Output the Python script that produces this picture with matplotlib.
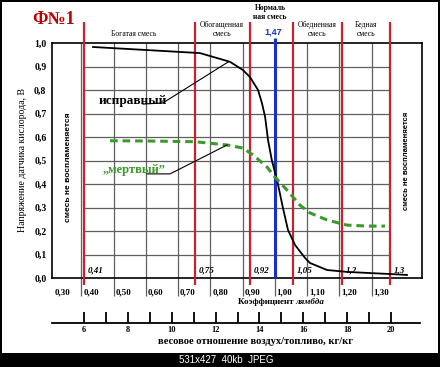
import matplotlib
matplotlib.use("Agg")
import matplotlib.pyplot as plt
from matplotlib.patches import Rectangle

# good sensor curve (lambda, volts)
lam_good = [0.436, 0.706, 0.768, 0.861, 0.901, 0.923, 0.948, 0.960, 0.970, 0.979,
            0.991, 1.007, 1.025, 1.041, 1.063, 1.094, 1.109, 1.162, 1.224, 1.295, 1.357, 1.410]
v_good = [0.983, 0.962, 0.957, 0.920, 0.885, 0.855, 0.800, 0.745, 0.685, 0.587,
          0.500, 0.417, 0.300, 0.204, 0.140, 0.085, 0.064, 0.034, 0.026, 0.021, 0.017, 0.013]

# dead sensor curve
lam_dead = [0.489, 0.604, 0.752, 0.852, 0.901, 0.933, 0.976, 1.000, 1.038, 1.078,
            1.109, 1.162, 1.224, 1.286, 1.342]
v_dead = [0.584, 0.583, 0.580, 0.566, 0.553, 0.523, 0.472, 0.430, 0.374, 0.310,
          0.277, 0.247, 0.225, 0.221, 0.221]

# mixture borders (red lines)
red_lam = [0.408, 0.752, 0.923, 1.057, 1.208, 1.357]
red_labels = ["0,41", "0,75", "0,92", "1,05", "1,2", "1,3"]
stoich_lam = 1.0

lam_ticks = [0.3, 0.4, 0.5, 0.6, 0.7, 0.8, 0.9, 1.0, 1.1, 1.2, 1.3]
lam_tick_labels = ["0,30", "0,40", "0,50", "0,60", "0,70", "0,80", "0,90", "1,00", "1,10", "1,20", "1,30"]
afr_ticks = [6, 7, 8, 9, 10, 11, 12, 13, 14, 15, 16, 17, 18, 19, 20]
afr_labels = ["6", "", "8", "", "10", "", "12", "", "14", "", "16", "", "18", "", "20"]
v_ticks = [0.0, 0.1, 0.2, 0.3, 0.4, 0.5, 0.6, 0.7, 0.8, 0.9, 1.0]
v_tick_labels = ["0,0", "0,1", "0,2", "0,3", "0,4", "0,5", "0,6", "0,7", "0,8", "0,9", "1,0"]

zones = ["Богатая смесь", "Обогащенная\nсмесь", "Обедненная\nсмесь", "Бедная\nсмесь"]
zone_lam = [0.563, 0.836, 1.131, 1.283]
zone_y = [1.038, 1.058, 1.058, 1.058]

AFR_STOICH = 14.7
SERIF = "Liberation Serif"
SANS = "Liberation Sans"
RED = "#cc1f2f"
GRID = "#5f5f5f"


def main():
    fig = plt.figure(figsize=(4.40, 3.67), dpi=100)
    fig.patch.set_facecolor("black")
    # white picture area inside the black frame / bottom bar
    fig.add_artist(Rectangle((2 / 440, 14 / 367), 436 / 440, 351 / 367,
                             transform=fig.transFigure, facecolor="white", edgecolor="none", zorder=0))
    fig.text(226 / 440, 7 / 367, "531x427  40kb  JPEG", color="white", fontsize=7,
             family=SANS, ha="center", va="center")

    ax = fig.add_axes([52 / 440, 1 - 278 / 367, 370 / 440, 235 / 367])
    ax.set_facecolor("white")
    ax.set_xlim(0.3089, 1.4566)
    ax.set_ylim(0, 1)
    for s in ax.spines.values():
        s.set_linewidth(1.2)
        s.set_color("black")
    ax.set_xticks([])
    ax.set_yticks(v_ticks, v_tick_labels, family=SERIF, fontweight="bold", fontsize=7)
    ax.tick_params(axis="y", length=0, pad=4)

    # grid
    ax.vlines(lam_ticks[1:], 0, 1, color=GRID, lw=0.9, zorder=1)
    ax.hlines(v_ticks[1:-1], red_lam[0], red_lam[-1], color=GRID, lw=0.9, zorder=1)

    # ticks + labels for lambda below the box
    ax.vlines(lam_ticks[1:], -0.075, 0, color=GRID, lw=0.9, clip_on=False)
    for i, (l, t) in enumerate(zip(lam_ticks, lam_tick_labels)):
        xx = l + 0.016 if i == 0 else l + 0.006
        ax.text(xx, -0.06, t, family=SERIF, fontweight="bold", fontsize=6.5,
                ha="left", va="center", clip_on=False)
    ax.text(1.065, -0.102, "Коэффициент ", family=SERIF, fontweight="bold", fontsize=6.5,
            ha="right", va="center")
    ax.text(1.065, -0.102, "лямбда", family=SERIF, fontweight="bold", style="italic",
            fontsize=6.5, ha="left", va="center")

    # air/fuel ratio scale
    afr_lam = [a / AFR_STOICH for a in afr_ticks]
    ax.plot([0.3089, 1.4505], [-0.191, -0.191], color="black", lw=1.3, clip_on=False)
    ax.vlines(afr_lam, -0.191, -0.145, color="black", lw=1.3, clip_on=False)
    for l, t in zip(afr_lam, afr_labels):
        ax.text(l, -0.222, t, family=SERIF, fontweight="bold", fontsize=6,
                ha="center", va="center")
    ax.text(0.939, -0.272, "весовое отношение воздух/топливо, кг/кг", family=SERIF,
            fontweight="bold", fontsize=7.6, ha="center", va="center")

    # red mixture borders
    ax.vlines(red_lam, -0.03, 1.09, color=RED, lw=1.6, clip_on=False, zorder=3)
    for l, t in zip(red_lam, red_labels):
        ax.text(l + 0.012, 0.034, t, family=SERIF, fontweight="bold", style="italic",
                fontsize=6.5, ha="left", va="center")
    ax.vlines(stoich_lam, 0, 1.02, color="#1a2fc8", lw=2.2, clip_on=False, zorder=3)
    ax.text(0.994, 1.045, "1,47", color="#1a2fc8", family=SANS, fontweight="bold",
            fontsize=6.5, ha="center", va="center")
    ax.text(0.985, 1.13, "Нормаль\nная смесь", family=SERIF, fontweight="bold",
            fontsize=5.5, ha="center", va="center", linespacing=1.1)
    for z, l, y in zip(zones, zone_lam, zone_y):
        ax.text(l, y, z, family=SERIF, fontsize=5.5, ha="center", va="center", linespacing=1.2)

    # curves
    ax.plot(lam_good, v_good, color="black", lw=1.3, zorder=4)
    ax.plot(lam_dead, v_dead, color="#3c9a2c", lw=2.2, dashes=(2.5, 1.6), zorder=4)

    # labels with leaders
    ax.plot([0.591, 0.653, 0.855], [0.740, 0.745, 0.919], color="black", lw=0.8, zorder=4)
    ax.text(0.56, 0.755, "исправный", family=SERIF, fontweight="bold", fontsize=9.5,
            ha="center", va="center", zorder=5)
    ax.plot([0.604, 0.675, 0.852], [0.443, 0.443, 0.566], color="black", lw=0.8, zorder=4)
    ax.text(0.565, 0.46, "„мертвый\u201d", family=SERIF, fontweight="bold", fontsize=9,
            color="#3c9a2c", ha="center", va="center", zorder=5)

    # side texts
    ax.text(0.359, 0.47, "смесь не воспламеняется", family=SANS, fontweight="bold",
            fontsize=6, rotation=90, ha="center", va="center")
    ax.text(1.41, 0.50, "смесь не воспламеняется", family=SANS, fontweight="bold",
            fontsize=5.5, rotation=90, ha="center", va="center")
    ax.text(0.216, 0.50, "Напряжение датчика кислорода, В", family=SERIF, fontsize=7,
            rotation=90, ha="center", va="center")
    ax.text(0.315, 1.098, "Ф№1", family=SERIF, fontweight="bold", fontsize=13,
            color="#c00000", ha="center", va="center")

    fig.savefig("out.png", dpi=100, facecolor=fig.get_facecolor())


if __name__ == "__main__":
    main()
